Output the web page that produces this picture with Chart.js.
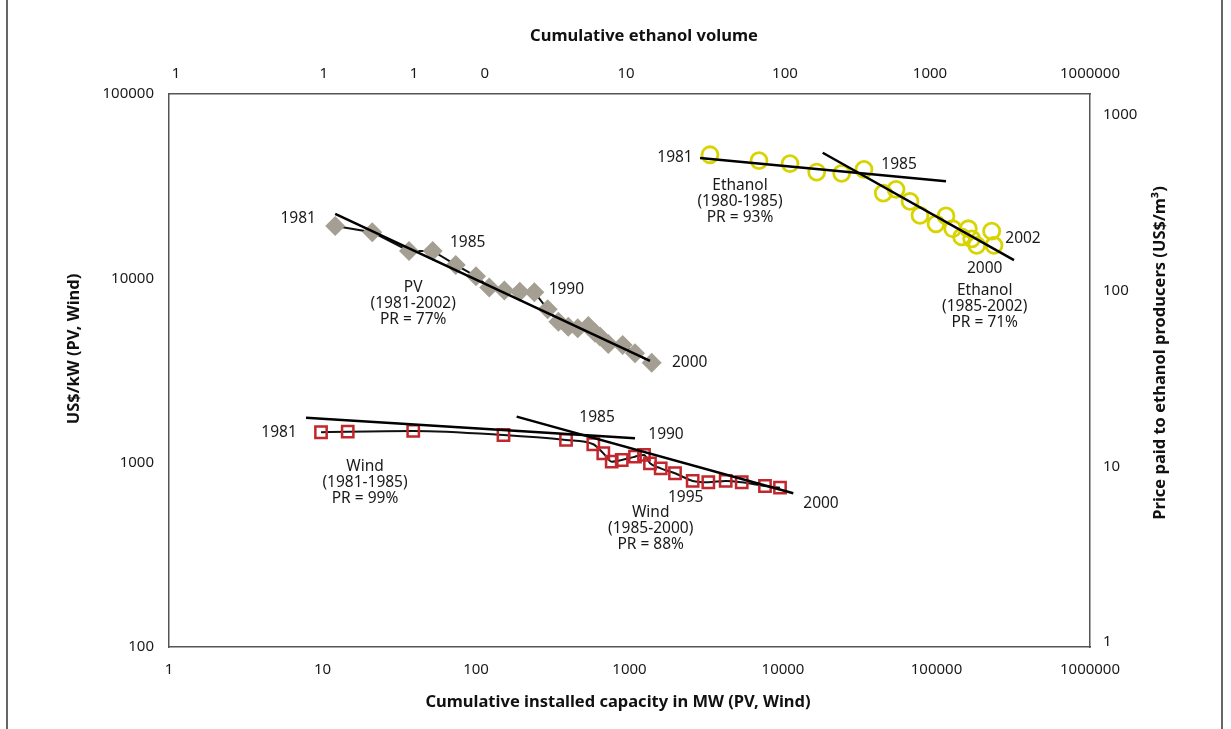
<!DOCTYPE html>
<html>
<head>
<meta charset="utf-8">
<script src="https://cdn.jsdelivr.net/npm/chart.js@4.4.1/dist/chart.umd.min.js"></script>
<style>
  html, body { margin: 0; padding: 0; background: #fff; }
  #wrap { position: relative; width: 1231px; height: 729px; }
</style>
</head>
<body>
<div id="wrap"><canvas id="myChart"></canvas></div>
<script>
'use strict';
// values

const pvCapacity = [12.1, 21.1, 36.6, 52.2, 73.8, 100, 122, 153, 193, 240, 293, 344, 399, 460, 539, 596, 642, 728, 903, 1086, 1395];
const pvCost = [19240, 17800, 14080, 14080, 11820, 10260, 8905, 8580, 8470, 8410, 6797, 5821, 5470, 5360, 5518, 5075, 4829, 4406, 4351, 3922, 3488];

const windCapacity = [9.78, 14.6, 39.0, 151, 386, 581, 675, 766, 890, 1086, 1243, 1360, 1597, 1979, 2580, 3262, 4233, 5383, 7633, 9561];
const windCost = [1462, 1473, 1486, 1413, 1328, 1259, 1125, 1013, 1034, 1078, 1101, 992, 932, 876, 796, 783, 796, 783, 747, 732];

const ethanolVolume = [3345, 6977, 11110, 16580, 24120, 33710, 45020, 54490, 67200, 78080, 99240, 115300, 127500, 145900, 161200, 169600, 182800, 228800, 236900];
const ethanolPrice = [593, 549, 528, 473, 465, 490, 359, 377, 322, 268, 240, 266, 225, 202, 225, 197, 181, 218, 181];

// learning curve fits, end points
const pvFitX = [12.1, 1360];
const pvFitY = [22360, 3563];
const windFitAX = [7.81, 1086];
const windFitAY = [1755, 1357];
const windFitBX = [184, 11670];
const windFitBY = [1777, 682];
const ethFitAX = [2880, 115300];
const ethFitAY = [568, 419];
const ethFitBX = [18140, 319800];
const ethFitBY = [609, 149];

// ticks
const bottomTicks = [1, 10, 100, 1000, 10000, 100000, 1000000];
const leftTicks = [100, 1000, 10000, 100000];
const rightTicks = [1, 10, 100, 1000];
const topTickAt = [1.11, 10.2, 39.5, 114, 949, 10300, 90700, 1000000];
const topTickLabels = ['1', '1', '1', '0', '10', '100', '1000', '1000000'];

const FONT = '"Noto Sans", sans-serif';

function pts(xs, ys) {
  return xs.map((x, i) => ({x: x, y: ys[i]}));
}

function fitLine(xs, ys, xAxis, yAxis) {
  return {
    data: pts(xs, ys),
    xAxisID: xAxis,
    yAxisID: yAxis,
    showLine: true,
    borderColor: '#000',
    borderWidth: 2.5,
    pointRadius: 0,
    order: 1
  };
}

// labels next to the series (offset from a data point)
const notes = [
  {ds: 0, i: 0, dx: -37, dy: -7, lines: ['1981']},
  {ds: 0, i: 3, dx: 35, dy: -8, lines: ['1985']},
  {ds: 0, i: 9, dx: 32, dy: -3, lines: ['1990']},
  {ds: 0, i: 20, dx: 38, dy: 0, lines: ['2000']},
  {ds: 0, i: 0, dx: 78, dy: 62, lines: ['PV', '(1981-2002)', 'PR = 77%']},
  {ds: 2, i: 0, dx: -35, dy: 3, lines: ['1981']},
  {ds: 2, i: 5, dx: 35, dy: -5, lines: ['1985']},
  {ds: 2, i: 0, dx: 30, dy: 31, lines: ['Ethanol', '(1980-1985)', 'PR = 93%']},
  {ds: 2, i: 18, dx: 29, dy: -7, lines: ['2002']},
  {ds: 2, i: 16, dx: 8, dy: 23, lines: ['2000']},
  {ds: 2, i: 16, dx: 8, dy: 45, lines: ['Ethanol', '(1985-2002)', 'PR = 71%']},
  {ds: 1, i: 0, dx: -42, dy: 0, lines: ['1981']},
  {ds: 1, i: 4, dx: 31, dy: -22, lines: ['1985']},
  {ds: 1, i: 10, dx: 22, dy: -20, lines: ['1990']},
  {ds: 1, i: 0, dx: 44, dy: 34, lines: ['Wind', '(1981-1985)', 'PR = 99%']},
  {ds: 1, i: 14, dx: -7, dy: 17, lines: ['1995']},
  {ds: 1, i: 14, dx: -42, dy: 32, lines: ['Wind', '(1985-2000)', 'PR = 88%']},
  {ds: 1, i: 19, dx: 41, dy: 16, lines: ['2000']}
];

const notesPlugin = {
  id: 'notes',
  afterDatasetsDraw(chart) {
    const ctx = chart.ctx;
    ctx.save();
    ctx.fillStyle = '#1a1a1a';
    ctx.font = '15.5px ' + FONT;
    ctx.textAlign = 'center';
    ctx.textBaseline = 'middle';
    for (const n of notes) {
      const p = chart.getDatasetMeta(n.ds).data[n.i];
      n.lines.forEach((t, k) => ctx.fillText(t, p.x + n.dx, p.y + n.dy + k * 16));
    }
    ctx.restore();
  }
};

// axis titles + outer frame
const titlesPlugin = {
  id: 'titles',
  afterDraw(chart) {
    const ctx = chart.ctx;
    const h = chart.height;
    ctx.save();
    ctx.strokeStyle = '#666';
    ctx.lineWidth = 2;
    ctx.beginPath();
    ctx.moveTo(7, 0); ctx.lineTo(7, h);
    ctx.moveTo(1222, 0); ctx.lineTo(1222, h);
    ctx.stroke();

    ctx.fillStyle = '#111';
    ctx.font = 'bold 16.5px ' + FONT;
    ctx.textAlign = 'center';
    ctx.textBaseline = 'middle';
    ctx.fillText('Cumulative ethanol volume', 644, 36);
    ctx.fillText('Cumulative installed capacity in MW (PV, Wind)', 618, 702);

    ctx.translate(74, 349);
    ctx.rotate(-Math.PI / 2);
    ctx.fillText('US$/kW (PV, Wind)', 0, 0);
    ctx.restore();

    ctx.save();
    ctx.fillStyle = '#111';
    ctx.font = 'bold 16.5px ' + FONT;
    ctx.textAlign = 'center';
    ctx.textBaseline = 'middle';
    ctx.translate(1160, 353);
    ctx.rotate(-Math.PI / 2);
    ctx.fillText('Price paid to ethanol producers (US$/m\u00B3)', 0, 0);
    ctx.restore();
  }
};

function logAxis(pos, min, max, tickList, size, pad, labelFn) {
  return {
    type: 'logarithmic',
    position: pos,
    min: min,
    max: max,
    grid: {display: false, drawTicks: false},
    border: {display: true, color: '#555', width: 1.5},
    ticks: {
      padding: pad,
      color: '#1a1a1a',
      font: {size: 15, family: FONT},
      autoSkip: false,
      maxRotation: 0,
      callback: labelFn || (v => String(v))
    },
    afterBuildTicks: s => { s.ticks = tickList.map(v => ({value: v})); },
    afterFit: s => {
      if (pos === 'top' || pos === 'bottom') s.height = size; else s.width = size;
    }
  };
}

const config = {
  type: 'scatter',
  data: {
    datasets: [
      {
        data: pts(pvCapacity, pvCost),
        xAxisID: 'x',
        yAxisID: 'y',
        showLine: true,
        borderColor: '#111',
        borderWidth: 2,
        pointStyle: 'rectRot',
        pointRadius: 10,
        pointBackgroundColor: '#a49e93',
        pointBorderColor: '#a49e93',
        pointBorderWidth: 0,
        order: 3
      },
      {
        data: pts(windCapacity, windCost),
        xAxisID: 'x',
        yAxisID: 'y',
        showLine: true,
        tension: 0.4,
        cubicInterpolationMode: 'monotone',
        borderColor: '#111',
        borderWidth: 2,
        pointStyle: 'rect',
        pointRadius: 8,
        pointBackgroundColor: 'rgba(0,0,0,0)',
        pointBorderColor: '#c1272d',
        pointBorderWidth: 2.5,
        order: 3
      },
      {
        data: pts(ethanolVolume, ethanolPrice),
        xAxisID: 'x2',
        yAxisID: 'y2',
        showLine: false,
        pointStyle: 'circle',
        pointRadius: 8,
        pointBackgroundColor: 'rgba(0,0,0,0)',
        pointBorderColor: '#d8d400',
        pointBorderWidth: 2.8,
        order: 3
      },
      fitLine(pvFitX, pvFitY, 'x', 'y'),
      fitLine(windFitAX, windFitAY, 'x', 'y'),
      fitLine(windFitBX, windFitBY, 'x', 'y'),
      fitLine(ethFitAX, ethFitAY, 'x2', 'y2'),
      fitLine(ethFitBX, ethFitBY, 'x2', 'y2')
    ]
  },
  options: {
    responsive: true,
    maintainAspectRatio: false,
    animation: false,
    events: [],
    layout: {padding: 0},
    plugins: {
      legend: {display: false},
      tooltip: {enabled: false}
    },
    scales: {
      x: logAxis('bottom', 1, 1000000, bottomTicks, 82, 14),
      x2: logAxis('top', 1, 1000000, topTickAt, 94, 11, (v, i) => topTickLabels[i]),
      y: logAxis('left', 100, 100000, leftTicks, 169, 15),
      y2: logAxis('right', 0.937, 1315, rightTicks, 141, 13)
    }
  },
  plugins: [notesPlugin, titlesPlugin]
};

const chart = document.getElementById('myChart');
const myChart = new Chart(chart, config);
</script>
</body>
</html>
